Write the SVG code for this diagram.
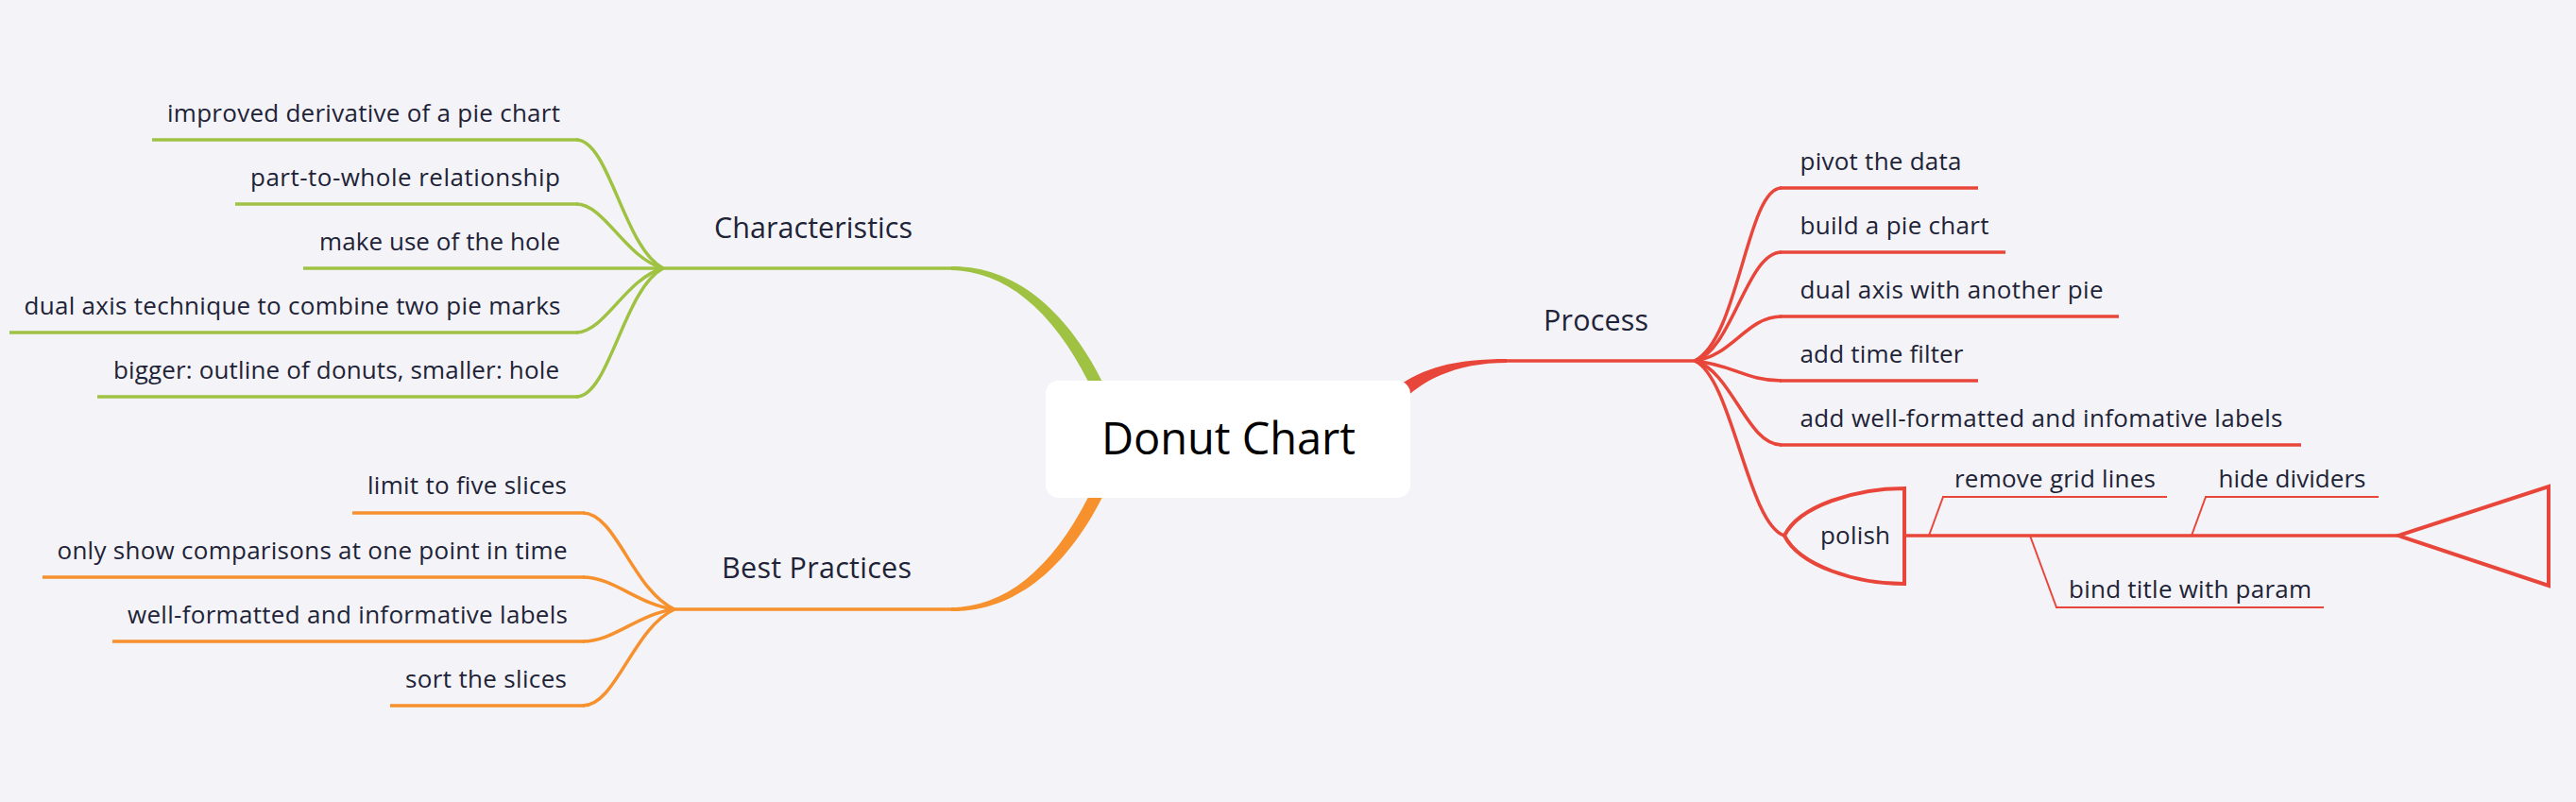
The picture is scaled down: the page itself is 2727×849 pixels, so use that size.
<svg xmlns="http://www.w3.org/2000/svg" width="2727" height="849" viewBox="0 0 2727 849">
<style>
.t{font-family:"Open Sans","Noto Sans",sans-serif;font-size:26px;fill:#1e2337}
.m{font-family:"Open Sans","Noto Sans",sans-serif;font-size:30.5px;fill:#1e2337}
.c{font-family:"Open Sans","Noto Sans",sans-serif;font-size:47px;fill:#000}
.g{stroke:#9fc243;fill:none;stroke-width:3.5}
.o{stroke:#f6912e;fill:none;stroke-width:3.5}
.r{stroke:#e8463a;fill:none;stroke-width:3.5}
.rt{stroke:#e8463a;fill:none;stroke-width:2}
</style>
<rect width="2727" height="849" fill="#f4f4f8"/>
<g id="connectors">
<path d="M1007 282 C1072 281 1130 326 1171 412 L1159 418 C1120 334 1068 287 1007 286 Z" fill="#9fc243"/>
<path d="M1007 647 C1072 648 1130 604 1171 518 L1159 512 C1120 596 1068 643 1007 643 Z" fill="#f6912e"/>
<path d="M1595 380 C1550 380 1510 386 1478 410 L1488 421 C1515 396 1552 384 1595 384 Z" fill="#e8463a"/>
<path class="g" d="M702 284 C660 262 645 148 610 148"/>
<path class="g" d="M702 284 C662 273 640 216 610 216"/>
<path class="g" d="M702 284 C662 295 640 352 610 352"/>
<path class="g" d="M702 284 C660 306 645 420 610 420"/>
<path class="o" d="M714 645 C670 625 652 543 617 543"/>
<path class="o" d="M714 645 C675 640 650 611 617 611"/>
<path class="o" d="M714 645 C675 650 650 679 617 679"/>
<path class="o" d="M714 645 C670 665 652 747 617 747"/>
<path class="r" d="M1794 382 C1841 359 1849 199 1886 199"/>
<path class="r" d="M1794 382 C1834 371 1849 267 1886 267"/>
<path class="r" d="M1794 382 C1834 377 1849 335 1886 335"/>
<path class="r" d="M1794 382 C1834 386 1849 403 1886 403"/>
<path class="r" d="M1794 382 C1834 393 1849 471 1886 471"/>
<path class="r" d="M1794 382 C1834 400 1850 555 1889 567"/>
<path class="rt" d="M2042 567 L2057 526"/>
<path class="rt" d="M2320 567 L2335 526"/>
<path class="rt" d="M2149 567 L2177 643"/>
</g>
<g id="central">
<rect x="1107" y="403" width="386" height="124" rx="14" fill="#fff"/>
<text class="c" x="1166" y="481" textLength="269">Donut Chart</text>
</g>
<g id="characteristics">
<line class="g" x1="700" y1="284" x2="1009" y2="284" stroke-width="4"/>
<text class="m" x="756" y="252" textLength="210">Characteristics</text>
</g>
<g id="c1"><line class="g" x1="161" y1="148" x2="612" y2="148"/><text class="t" x="177" y="129" textLength="416">improved derivative of a pie chart</text></g>
<g id="c2"><line class="g" x1="249" y1="216" x2="612" y2="216"/><text class="t" x="265" y="197" textLength="328">part-to-whole relationship</text></g>
<g id="c3"><line class="g" x1="321" y1="284" x2="702" y2="284"/><text class="t" x="338" y="265" textLength="255">make use of the hole</text></g>
<g id="c4"><line class="g" x1="10" y1="352" x2="612" y2="352"/><text class="t" x="25.5" y="333" textLength="568">dual axis technique to combine two pie marks</text></g>
<g id="c5"><line class="g" x1="103" y1="420" x2="612" y2="420"/><text class="t" x="120" y="401" textLength="472">bigger: outline of donuts, smaller: hole</text></g>
<g id="best-practices">
<line class="o" x1="712" y1="645" x2="1009" y2="645" stroke-width="4"/>
<text class="m" x="764" y="612" textLength="201">Best Practices</text>
</g>
<g id="b1"><line class="o" x1="373" y1="543" x2="619" y2="543"/><text class="t" x="389" y="523" textLength="211">limit to five slices</text></g>
<g id="b2"><line class="o" x1="45" y1="611" x2="619" y2="611"/><text class="t" x="60.5" y="592" textLength="540">only show comparisons at one point in time</text></g>
<g id="b3"><line class="o" x1="119" y1="679" x2="619" y2="679"/><text class="t" x="135" y="660" textLength="466">well-formatted and informative labels</text></g>
<g id="b4"><line class="o" x1="413" y1="747" x2="619" y2="747"/><text class="t" x="429" y="728" textLength="171">sort the slices</text></g>
<g id="process">
<line class="r" x1="1593" y1="382" x2="1796" y2="382" stroke-width="4"/>
<text class="m" x="1634" y="350" textLength="111">Process</text>
</g>
<g id="p1"><line class="r" x1="1884" y1="199" x2="2094" y2="199"/><text class="t" x="1905.5" y="180" textLength="171">pivot the data</text></g>
<g id="p2"><line class="r" x1="1884" y1="267" x2="2123" y2="267"/><text class="t" x="1905.5" y="248" textLength="200">build a pie chart</text></g>
<g id="p3"><line class="r" x1="1884" y1="335" x2="2243" y2="335"/><text class="t" x="1905.5" y="316" textLength="321">dual axis with another pie</text></g>
<g id="p4"><line class="r" x1="1884" y1="403" x2="2094" y2="403"/><text class="t" x="1905.5" y="384" textLength="173">add time filter</text></g>
<g id="p5"><line class="r" x1="1884" y1="471" x2="2436" y2="471"/><text class="t" x="1905.5" y="452" textLength="511">add well-formatted and infomative labels</text></g>
<g id="polish">
<line class="r" x1="2016" y1="567" x2="2540" y2="567" stroke-width="4"/>
<path d="M2539 567 L2698 515 L2698 620 Z" fill="none" stroke="#e8463a" stroke-width="4" stroke-linejoin="miter"/>
<path d="M2016 517 C1965 517 1905 535 1889 567 C1905 599 1965 618 2016 618 Z" fill="#f4f4f8" stroke="#e8463a" stroke-width="4"/>
<text class="t" x="1927" y="576" textLength="74">polish</text>
</g>
<g id="f1"><line class="rt" x1="2056" y1="526" x2="2294" y2="526"/><text class="t" x="2069" y="516" textLength="213">remove grid lines</text></g>
<g id="f2"><line class="rt" x1="2334" y1="526" x2="2518" y2="526"/><text class="t" x="2348.5" y="516" textLength="156">hide dividers</text></g>
<g id="f3"><line class="rt" x1="2176" y1="643" x2="2460" y2="643"/><text class="t" x="2190" y="633" textLength="257">bind title with param</text></g>
</svg>
